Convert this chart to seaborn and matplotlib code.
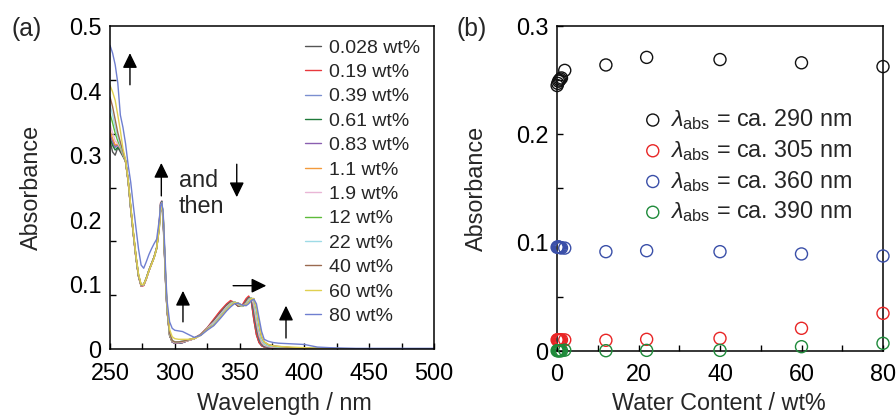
import numpy as np
import pandas as pd
import matplotlib
matplotlib.use("Agg")
import matplotlib.pyplot as plt
from matplotlib.ticker import FixedLocator
import seaborn as sns

# ---- panel (a): absorption spectra at each water content ----
wl = [250, 252, 254, 256, 258, 260, 262, 264, 266, 268, 270, 272, 274, 276, 278,
      280, 282, 284, 286, 288, 289, 290, 291, 292, 293, 294, 296, 298, 300, 303,
      306, 310, 315, 320, 325, 330, 335, 340, 343, 346, 349, 352, 355, 357, 359,
      361, 363, 365, 367, 369, 372, 376, 380, 390, 400, 410, 420, 440, 500]

abs_0028 = [.322, .305, .300, .312, .305, .298, .292,
            .260, .217, .178, .142, .113, .098, .099, .109, .121, .131, .141, .155, .190, .218, .222, .196, .148, .098, .060, .021,
            .011, .009, .009, .010, .013, .016, .022, .032,
            .045, .058, .069, .073, .071, .066, .067, .076, .080, .074, .045, .022, .010, .005, .003, .002, .002, .001,
            .001, .001, .000, .000, .000, .000]
abs_019 = [.326, .318, .312, .318, .312, .302, .290,
           .259, .216, .177, .141, .112, .097, .098, .108, .121, .131, .142, .157, .195, .226, .229, .202, .150, .099, .060, .021,
           .011, .009, .009, .010, .013, .017, .023, .033,
           .046, .059, .070, .075, .072, .066, .068, .078, .082, .075, .046, .022, .010, .005, .003, .002, .002, .001,
           .001, .001, .000, .000, .000, .000]
abs_039 = [.330, .320, .312, .315, .310, .300, .290,
           .260, .217, .178, .142, .113, .098, .099, .109, .121, .132, .142, .157, .194, .225, .229, .204, .152, .100, .061, .021,
           .011, .009, .009, .010, .013, .016, .022, .032,
           .043, .055, .067, .072, .072, .067, .066, .073, .079, .078, .058, .032, .015, .007, .004, .003, .002, .001,
           .001, .001, .000, .000, .000, .000]
abs_061 = [.326, .315, .308, .312, .308, .299, .290,
           .260, .217, .178, .142, .113, .098, .099, .109, .121, .132, .142, .157, .193, .224, .228, .203, .152, .100, .061, .021,
           .011, .009, .009, .010, .013, .016, .022, .032,
           .043, .055, .067, .072, .072, .067, .066, .073, .079, .078, .058, .032, .015, .007, .004, .003, .002, .001,
           .001, .001, .000, .000, .000, .000]
abs_083 = [.333, .322, .314, .316, .310, .300, .290,
           .261, .218, .179, .142, .113, .098, .099, .109, .121, .132, .142, .156, .192, .223, .227, .204, .153, .101, .062, .022,
           .011, .009, .009, .010, .013, .016, .022, .032,
           .042, .054, .066, .071, .072, .068, .066, .072, .078, .079, .062, .036, .017, .008, .005, .003, .002, .001,
           .001, .001, .000, .000, .000, .000]
abs_11 = [.338, .326, .316, .317, .311, .301, .290,
          .261, .218, .179, .143, .114, .098, .099, .109, .121, .132, .142, .156, .191, .222, .226, .205, .154, .102, .062, .022,
          .012, .010, .010, .011, .013, .016, .022, .032,
          .041, .053, .065, .071, .073, .068, .066, .071, .077, .079, .068, .042, .021, .010, .006, .004, .003, .002,
          .001, .001, .000, .000, .000, .000]
abs_19 = [.348, .334, .322, .318, .312, .302, .291,
          .261, .218, .179, .143, .114, .098, .099, .109, .121, .132, .142, .156, .190, .221, .226, .206, .155, .103, .063, .023,
          .012, .010, .010, .011, .013, .016, .022, .032,
          .041, .053, .065, .070, .073, .069, .066, .070, .076, .079, .070, .045, .023, .011, .006, .004, .003, .002,
          .001, .001, .000, .000, .000, .000]
abs_12 = [.364, .350, .334, .322, .314, .303, .291,
          .262, .219, .180, .144, .114, .099, .100, .110, .122, .132, .142, .156, .188, .219, .225, .207, .156, .104, .064, .024,
          .013, .011, .011, .012, .014, .017, .022, .031,
          .039, .051, .063, .069, .073, .070, .066, .069, .075, .079, .075, .053, .029, .014, .008, .005, .004, .003,
          .002, .001, .001, .000, .000, .000]
abs_22 = [.378, .362, .344, .328, .316, .304, .292,
          .262, .219, .180, .144, .115, .099, .100, .110, .122, .132, .142, .156, .187, .218, .224, .208, .157, .105, .065, .024,
          .013, .011, .011, .012, .014, .017, .022, .031,
          .039, .051, .063, .069, .073, .070, .066, .069, .075, .079, .075, .053, .029, .014, .008, .005, .004, .003,
          .002, .001, .001, .000, .000, .000]
abs_40 = [.390, .375, .355, .335, .320, .306, .292,
          .262, .220, .181, .145, .115, .099, .100, .110, .122, .132, .142, .156, .186, .216, .223, .208, .158, .106, .066, .025,
          .013, .011, .011, .012, .014, .017, .022, .031,
          .037, .049, .061, .067, .072, .071, .067, .068, .072, .078, .078, .063, .038, .019, .011, .007, .005, .004,
          .002, .001, .001, .000, .000, .000]
abs_60 = [.408, .398, .385, .362, .338, .310, .293,
          .262, .222, .182, .145, .116, .100, .100, .109, .121, .131, .141, .156, .186, .214, .222, .208, .160, .110, .070, .030,
          .019, .016, .015, .015, .015, .016, .021, .030,
          .037, .049, .061, .067, .072, .071, .067, .068, .072, .078, .078, .063, .038, .019, .011, .007, .005, .004,
          .003, .002, .001, .001, .000, .000]
abs_80 = [.470, .458, .440, .412, .362, .343, .318,
          .285, .258, .222, .188, .155, .130, .125, .135, .146, .155, .163, .170, .200, .222, .226, .212, .168, .118, .075, .042,
          .032, .029, .028, .027, .023, .018, .021, .029,
          .036, .047, .059, .065, .070, .071, .068, .067, .070, .075, .077, .070, .048, .027, .015, .012, .010, .009,
          .008, .007, .003, .002, .001, .001]

spec_labels = ["0.028 wt%", "0.19 wt%", "0.39 wt%", "0.61 wt%", "0.83 wt%", "1.1 wt%",
               "1.9 wt%", "12 wt%", "22 wt%", "40 wt%", "60 wt%", "80 wt%"]
spectra = [abs_0028, abs_019, abs_039, abs_061, abs_083, abs_11,
           abs_19, abs_12, abs_22, abs_40, abs_60, abs_80]
spec_colors = ["#555555", "#e8383d", "#7b8fd0", "#1f7a3a", "#8a5fb0", "#f39a3c",
               "#e9b6d6", "#5dbb3a", "#9edbe6", "#9a6a50", "#e0d050", "#6f7fd0"]

# ---- panel (b): absorbance vs water content ----
water = [0.028, 0.19, 0.39, 0.61, 0.83, 1.1, 1.9, 12, 22, 40, 60, 80]
a290 = [0.245, 0.247, 0.249, 0.250, 0.251, 0.252, 0.259, 0.264, 0.271, 0.269, 0.266, 0.2625]
a305 = [0.0100, 0.0102, 0.0100, 0.0098, 0.0099, 0.0101, 0.0100, 0.0096, 0.0105, 0.0114, 0.0207, 0.0345]
a360 = [0.0955, 0.0960, 0.0958, 0.0955, 0.0952, 0.0950, 0.0948, 0.0915, 0.0924, 0.0915, 0.0894, 0.0875]
a390 = [0.0, 0.0, 0.0, 0.0, 0.0, 0.0, 0.0005, 0.0, 0.0003, 0.0003, 0.0037, 0.0068]
pt_labels = [r"$\lambda_{\mathrm{abs}}$ = ca. 290 nm", r"$\lambda_{\mathrm{abs}}$ = ca. 305 nm",
             r"$\lambda_{\mathrm{abs}}$ = ca. 360 nm", r"$\lambda_{\mathrm{abs}}$ = ca. 390 nm"]
pt_colors = ["#111111", "#e82525", "#3a4fa8", "#1e8a3a"]

FS = 16.8      # ticks, axis labels, panel (b) legend
FS_LEG = 14    # panel (a) legend

sns.set_theme(style="ticks", rc={
    "xtick.direction": "in", "ytick.direction": "in",
    "axes.linewidth": 1.1, "axes.edgecolor": "black",
    "xtick.color": "black", "ytick.color": "black",
})
plt.rcParams["font.family"] = ["Liberation Sans", "DejaVu Sans"]
plt.rcParams["mathtext.fontset"] = "custom"
plt.rcParams["mathtext.rm"] = "Liberation Sans"
plt.rcParams["mathtext.it"] = "Liberation Sans:italic"

fig = plt.figure(figsize=(8.96, 4.17), dpi=100)
ax1 = fig.add_axes([110 / 896, 1 - 349 / 417, 324 / 896, 323 / 417])
ax2 = fig.add_axes([557 / 896, 1 - 350.7 / 417, 326 / 896, 324.7 / 417])

df = pd.DataFrame({
    "Wavelength": np.tile(wl, len(spectra)),
    "Absorbance": np.concatenate(spectra),
    "Water": np.repeat(spec_labels, len(wl)),
})
sns.lineplot(data=df, x="Wavelength", y="Absorbance", hue="Water", hue_order=spec_labels,
             palette=spec_colors, sort=False, estimator=None, lw=1.0, ax=ax1)
handles, labels = ax1.get_legend_handles_labels()
ax1.legend(handles, labels, loc="upper left", bbox_to_anchor=(0.602, 0.96), frameon=False,
           fontsize=FS_LEG, handlelength=0.8, handletextpad=0.45, labelspacing=0.35,
           borderpad=0, borderaxespad=0)

ax1.set_xlim(250, 500)
ax1.set_ylim(0, 0.5)
ax1.set_xticks([250, 300, 350, 400, 450, 500])
ax1.xaxis.set_minor_locator(FixedLocator(np.arange(250, 501, 25)))
ax1.set_yticks([0, 0.1, 0.2, 0.3, 0.4, 0.5], ["0", "0.1", "0.2", "0.3", "0.4", "0.5"])
ax1.yaxis.set_minor_locator(FixedLocator(np.linspace(0, 0.5, 7)))
ax1.tick_params(axis="x", which="both", length=4, width=1, labelsize=FS, pad=9)
ax1.tick_params(axis="y", which="major", length=0, labelsize=FS, pad=6)
ax1.tick_params(axis="y", which="minor", length=4, width=1)
ax1.set_xlabel("Wavelength / nm", fontsize=FS)
ax1.set_ylabel("Absorbance", fontsize=FS)
ax1.xaxis.set_label_coords(0.537, -0.133)
ax1.yaxis.set_label_coords(-0.207, 0.5)

arrow = dict(arrowstyle="-|>,head_length=0.45,head_width=0.22", color="black", lw=1.0,
             mutation_scale=20, shrinkA=0, shrinkB=0)
for tail, head in [((265.4, 0.409), (265.4, 0.458)),
                   ((289.6, 0.237), (289.6, 0.288)),
                   ((347.8, 0.286), (347.8, 0.235)),
                   ((306.3, 0.042), (306.3, 0.090)),
                   ((345.0, 0.098), (370.6, 0.098)),
                   ((385.8, 0.017), (385.8, 0.067))]:
    ax1.annotate("", xy=head, xytext=tail, arrowprops=arrow)
ax1.text(303.2, 0.251, "and", fontsize=FS, ha="left", va="baseline")
ax1.text(303.2, 0.210, "then", fontsize=FS, ha="left", va="baseline")

for ys, lab, col in zip([a290, a305, a360, a390], pt_labels, pt_colors):
    sns.scatterplot(x=water, y=ys, ax=ax2, marker="o", s=75, color=col,
                    facecolor="none", edgecolor=col, linewidth=1.0, clip_on=False,
                    zorder=3, label=lab)
ax2.legend(loc="upper left", bbox_to_anchor=(0.258, 0.75), frameon=False, fontsize=FS,
           handlelength=1.0, handletextpad=0.25, labelspacing=0.25, borderpad=0,
           borderaxespad=0)

ax2.set_xlim(0, 80)
ax2.set_ylim(0, 0.3)
ax2.set_xticks([0, 20, 40, 60, 80])
ax2.xaxis.set_minor_locator(FixedLocator(np.arange(0, 81, 10)))
ax2.set_yticks([0, 0.1, 0.2, 0.3], ["0", "0.1", "0.2", "0.3"])
ax2.yaxis.set_minor_locator(FixedLocator(np.arange(0, 0.31, 0.05)))
ax2.tick_params(axis="both", which="both", length=4, width=1, labelsize=FS)
ax2.tick_params(axis="x", which="both", pad=9)
ax2.tick_params(axis="y", which="both", pad=6)
ax2.set_xlabel("Water Content / wt%", fontsize=FS)
ax2.set_ylabel("Absorbance", fontsize=FS)
ax2.xaxis.set_label_coords(0.497, -0.128)
ax2.yaxis.set_label_coords(-0.212, 0.5)

for ax in (ax1, ax2):
    for sp in ax.spines.values():
        sp.set_visible(True)
        sp.set_linewidth(1.1)

fig.text(27 / 896, 1 - 29 / 417, "(a)", fontsize=FS + 1, ha="center", va="center")
fig.text(472 / 896, 1 - 29 / 417, "(b)", fontsize=FS + 1, ha="center", va="center")

fig.savefig("out.png", dpi=100)
